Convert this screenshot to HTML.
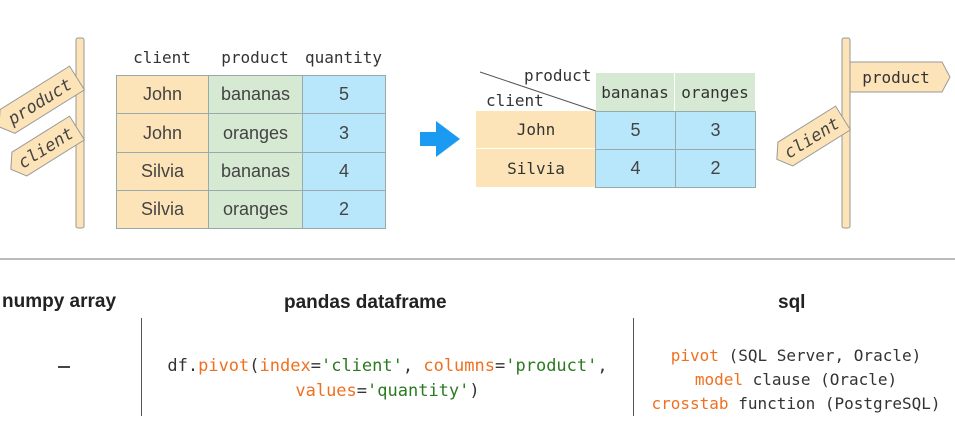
<!DOCTYPE html>
<html><head><meta charset="utf-8"><style>
body{margin:0;width:955px;height:438px;background:#fff;position:relative;overflow:hidden;font-family:"Liberation Sans",sans-serif}
.a{position:absolute}
.c{position:absolute;box-sizing:border-box;display:flex;align-items:center;justify-content:center;font-size:18px;color:#444}
.o{background:#fde4b8}.g{background:#d6e9d3}.b{background:#b8e6fb}
.bd{border:1px solid #9aa}
.h{font-family:"DejaVu Sans Mono",monospace;font-size:16px;color:#333}
.t{font-weight:bold;font-size:19px;color:#222}
.code{font-family:"DejaVu Sans Mono",monospace;font-size:17px;color:#333;text-align:center;line-height:25px}
.r{color:#f07020}.gr{color:#2a7a20}
</style></head><body>
<svg class="a" style="left:0;top:0" width="955" height="260">
<rect x="76" y="38" width="8" height="190" rx="2" fill="#fde4b8" stroke="#999"/>
<g transform="translate(77,78) rotate(-32)"><polygon points="0,-14 -82,-14 -92,0 -82,14 0,14" fill="#fde4b8" stroke="#999"/>
<text x="-44" y="6" text-anchor="middle" font-family="DejaVu Sans Mono" font-style="italic" font-size="17" fill="#444">product</text></g>
<g transform="translate(77,128) rotate(-32)"><polygon points="0,-14 -68,-14 -78,0 -68,14 0,14" fill="#fde4b8" stroke="#999"/>
<text x="-37" y="6" text-anchor="middle" font-family="DejaVu Sans Mono" font-style="italic" font-size="17" fill="#444">client</text></g>
<rect x="842" y="38" width="8" height="190" rx="2" fill="#fde4b8" stroke="#999"/>
<polygon points="850,62 942,62 950,77 942,92 850,92" fill="#fde4b8" stroke="#999"/>
<text x="896" y="83" text-anchor="middle" font-family="DejaVu Sans Mono" font-size="16" fill="#333">product</text>
<g transform="translate(843,118) rotate(-32)"><polygon points="0,-14 -68,-14 -78,0 -68,14 0,14" fill="#fde4b8" stroke="#999"/>
<text x="-37" y="6" text-anchor="middle" font-family="DejaVu Sans Mono" font-style="italic" font-size="17" fill="#444">client</text></g>
<polygon points="420,132 436,132 436,121 460,139 436,157 436,146 420,146" fill="#1a9af0"/>
<line x1="480" y1="72" x2="596" y2="111" stroke="#555" stroke-width="1"/>
<line x1="0" y1="259" x2="955" y2="259" stroke="#bbb" stroke-width="2"/>
</svg>
<div class="c h" style="left:116px;top:46px;width:92px;height:22px">client</div>
<div class="c h" style="left:208px;top:46px;width:94px;height:22px">product</div>
<div class="c h" style="left:302px;top:46px;width:83px;height:22px">quantity</div>
<div class="c o bd" style="left:116px;top:75px;width:93px;height:39px">John</div>
<div class="c g bd" style="left:208px;top:75px;width:95px;height:39px">bananas</div>
<div class="c b bd" style="left:302px;top:75px;width:84px;height:39px">5</div>
<div class="c o bd" style="left:116px;top:113px;width:93px;height:40px">John</div>
<div class="c g bd" style="left:208px;top:113px;width:95px;height:40px">oranges</div>
<div class="c b bd" style="left:302px;top:113px;width:84px;height:40px">3</div>
<div class="c o bd" style="left:116px;top:152px;width:93px;height:39px">Silvia</div>
<div class="c g bd" style="left:208px;top:152px;width:95px;height:39px">bananas</div>
<div class="c b bd" style="left:302px;top:152px;width:84px;height:39px">4</div>
<div class="c o bd" style="left:116px;top:190px;width:93px;height:39px">Silvia</div>
<div class="c g bd" style="left:208px;top:190px;width:95px;height:39px">oranges</div>
<div class="c b bd" style="left:302px;top:190px;width:84px;height:39px">2</div>
<div class="a h" style="left:524px;top:66px">product</div>
<div class="a h" style="left:486px;top:91px">client</div>
<div class="c g h" style="left:596px;top:73px;width:79px;height:38px;border-right:1px solid #fff">bananas</div>
<div class="c g h" style="left:675px;top:73px;width:80px;height:38px">oranges</div>
<div class="c o h" style="left:476px;top:111px;width:120px;height:38px;border-bottom:1px solid #fff">John</div>
<div class="c o h" style="left:476px;top:149px;width:120px;height:38px">Silvia</div>
<div class="c b bd" style="left:595px;top:111px;width:81px;height:39px">5</div>
<div class="c b bd" style="left:675px;top:111px;width:81px;height:39px">3</div>
<div class="c b bd" style="left:595px;top:149px;width:81px;height:39px">4</div>
<div class="c b bd" style="left:675px;top:149px;width:81px;height:39px">2</div>
<div class="a t" style="left:2px;top:291px">numpy array</div>
<div class="a t" style="left:284px;top:292px">pandas dataframe</div>
<div class="a t" style="left:778px;top:292px">sql</div>
<div class="a" style="left:141px;top:318px;width:1px;height:98px;background:#555"></div>
<div class="a" style="left:633px;top:318px;width:1px;height:98px;background:#555"></div>
<div class="a" style="left:58px;top:366px;width:12px;height:2px;background:#444"></div>
<div class="a code" style="left:145px;top:354px;width:485px">df.<span class="r">pivot</span>(<span class="r">index</span>=<span class="gr">'client'</span>, <span class="r">columns</span>=<span class="gr">'product'</span>,<br><span class="r">values</span>=<span class="gr">'quantity'</span>)</div>
<div class="a code" style="left:640px;top:344px;width:312px;line-height:24px;font-size:16px"><span class="r">pivot</span> (SQL Server, Oracle)<br><span class="r">model</span> clause (Oracle)<br><span class="r">crosstab</span> function (PostgreSQL)</div>
</body></html>
